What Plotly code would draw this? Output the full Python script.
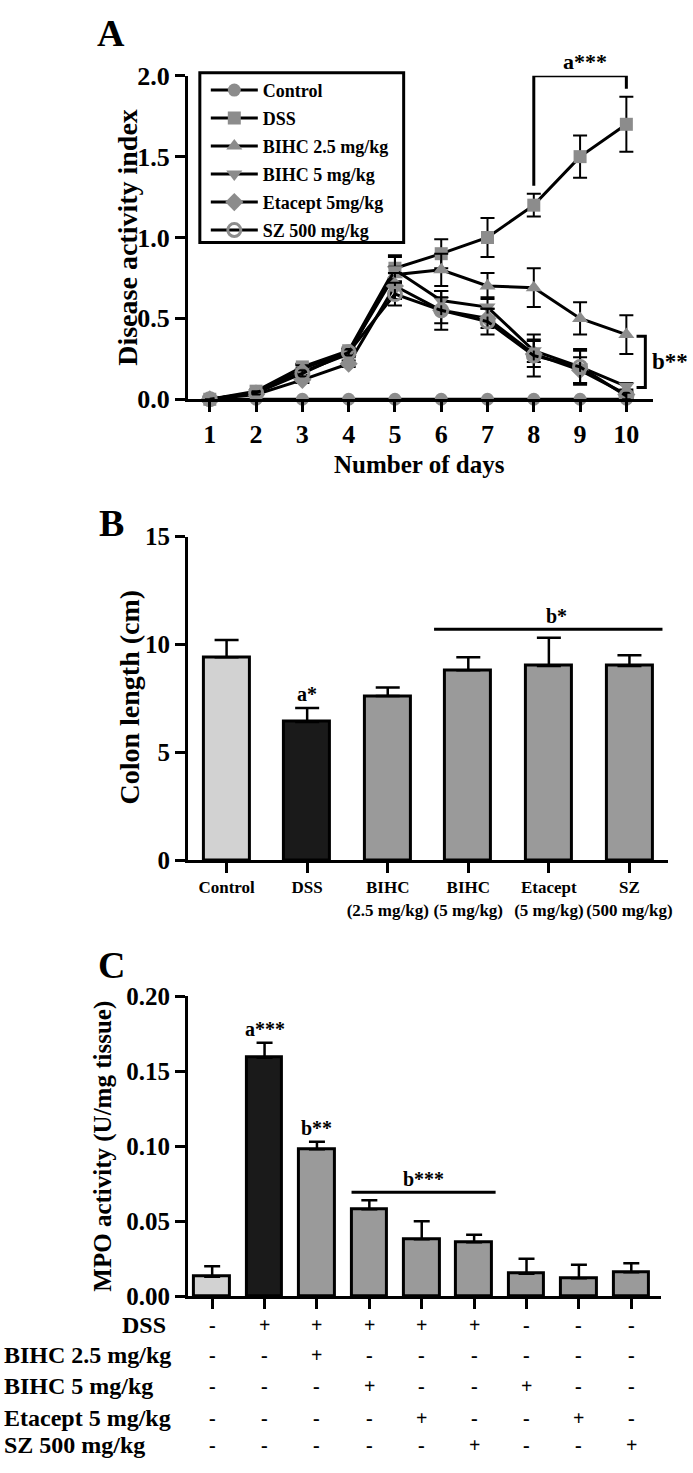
import plotly.graph_objects as go

# ---------------- Data ----------------
days = [1, 2, 3, 4, 5, 6, 7, 8, 9, 10]
series_names = ["Control", "DSS", "BIHC 2.5 mg/kg", "BIHC 5 mg/kg", "Etacept 5mg/kg", "SZ 500 mg/kg"]
dai_control = [0, 0, 0, 0, 0, 0, 0, 0, 0, 0]
dai_control_err = [0, 0, 0, 0, 0, 0, 0, 0, 0, 0]
dai_dss = [0.0, 0.05, 0.20, 0.30, 0.81, 0.90, 1.00, 1.20, 1.50, 1.70]
dai_dss_err = [0, 0.01, 0.02, 0.02, 0.08, 0.09, 0.12, 0.07, 0.13, 0.17]
dai_bihc25 = [0.0, 0.04, 0.19, 0.29, 0.77, 0.80, 0.70, 0.69, 0.50, 0.40]
dai_bihc25_err = [0, 0.01, 0.02, 0.02, 0.05, 0.10, 0.08, 0.12, 0.10, 0.12]
dai_bihc5 = [0.0, 0.04, 0.17, 0.28, 0.80, 0.61, 0.57, 0.30, 0.20, 0.08]
dai_bihc5_err = [0, 0.01, 0.02, 0.02, 0.08, 0.06, 0.06, 0.07, 0.10, 0.02]
dai_etacept = [0.0, 0.03, 0.12, 0.22, 0.70, 0.55, 0.50, 0.28, 0.18, 0.03]
dai_etacept_err = [0, 0.01, 0.02, 0.02, 0.08, 0.08, 0.06, 0.08, 0.08, 0.02]
dai_sz = [0.0, 0.04, 0.16, 0.29, 0.65, 0.55, 0.48, 0.27, 0.20, 0.02]
dai_sz_err = [0, 0.01, 0.02, 0.02, 0.07, 0.12, 0.08, 0.13, 0.11, 0.02]

groups_b = ["Control", "DSS", "BIHC<br>(2.5 mg/kg)", "BIHC<br>(5 mg/kg)", "Etacept<br>(5 mg/kg)", "SZ<br>(500 mg/kg)"]
colon_len = [9.4, 6.4, 7.6, 8.8, 9.0, 9.0]
colon_err = [0.8, 0.65, 0.4, 0.6, 1.3, 0.5]
colors_b = ["#d2d2d2", "#1a1a1a", "#9a9a9a", "#9a9a9a", "#9a9a9a", "#9a9a9a"]

mpo = [0.013, 0.159, 0.098, 0.058, 0.038, 0.036, 0.015, 0.012, 0.016]
mpo_err = [0.007, 0.010, 0.005, 0.006, 0.012, 0.005, 0.010, 0.009, 0.006]
colors_c = ["#d2d2d2", "#1a1a1a", "#9a9a9a", "#9a9a9a", "#9a9a9a", "#9a9a9a", "#9a9a9a", "#9a9a9a", "#9a9a9a"]

table_rows = ["DSS", "BIHC 2.5 mg/kg", "BIHC 5 mg/kg", "Etacept 5 mg/kg", "SZ 500 mg/kg"]
row_dss = ["-", "+", "+", "+", "+", "+", "-", "-", "-"]
row_bihc25 = ["-", "-", "+", "-", "-", "-", "-", "-", "-"]
row_bihc5 = ["-", "-", "-", "+", "-", "-", "+", "-", "-"]
row_etacept = ["-", "-", "-", "-", "+", "-", "-", "+", "-"]
row_sz = ["-", "-", "-", "-", "-", "+", "-", "-", "+"]

# ---------------- Figure ----------------
W, H = 693, 1473
FONT = "Liberation Serif"
GRAY = "#8c8c8c"

def px(x):
    return x / W

def py(y):
    return 1 - y / H

fig = go.Figure()

dai_all = [
    (dai_control, dai_control_err, "circle", GRAY, 13, 0),
    (dai_dss, dai_dss_err, "square", GRAY, 13, 0),
    (dai_bihc25, dai_bihc25_err, "triangle-up", GRAY, 14, 0),
    (dai_bihc5, dai_bihc5_err, "triangle-down", GRAY, 14, 0),
    (dai_etacept, dai_etacept_err, "diamond", GRAY, 14, 0),
    (dai_sz, dai_sz_err, "circle-open", GRAY, 13, 3),
]
for i, (vals, errs, sym, col, size, lw) in enumerate(dai_all):
    fig.add_trace(go.Scatter(
        x=days, y=vals, name=series_names[i], mode="lines+markers",
        line=dict(color="black", width=3),
        marker=dict(symbol=sym, color=col, size=size, line=dict(width=lw, color=col)),
        error_y=dict(type="data", array=errs, color="black", thickness=2, width=7),
        cliponaxis=False, legendgroup=f"g{i}",
        xaxis="x", yaxis="y",
    ))

# Panel B bars
fig.add_trace(go.Bar(
    x=list(range(len(groups_b))), y=colon_len, width=0.57,
    marker=dict(color=colors_b, line=dict(color="black", width=3)),
    error_y=dict(type="data", array=colon_err, arrayminus=[0] * len(colon_err), symmetric=False,
                 color="black", thickness=2.5, width=12),
    showlegend=False, xaxis="x2", yaxis="y2",
))

# Panel C bars
fig.add_trace(go.Bar(
    x=list(range(len(mpo))), y=mpo, width=0.68,
    marker=dict(color=colors_c, line=dict(color="black", width=3)),
    error_y=dict(type="data", array=mpo_err, arrayminus=[0] * len(mpo_err), symmetric=False,
                 color="black", thickness=2.5, width=8),
    showlegend=False, xaxis="x3", yaxis="y3",
))

axis_common = dict(showline=True, linewidth=3, linecolor="black", ticks="outside",
                   ticklen=10, tickwidth=3, tickcolor="black", showgrid=False, zeroline=False)

fig.update_layout(
    width=W, height=H, margin=dict(l=0, r=0, t=0, b=0),
    paper_bgcolor="white", plot_bgcolor="white",
    font=dict(family=FONT, color="black", weight="bold"),
    bargap=0,
    xaxis=dict(domain=[px(189), px(657)], range=[0.527, 10.58], tickvals=days, anchor="y",
               tickfont=dict(family=FONT, size=26, weight="bold"), **axis_common),
    yaxis=dict(domain=[py(393), py(63)], range=[0, 2.0], tickvals=[0, 0.5, 1.0, 1.5, 2.0],
               tickformat=".1f", anchor="x",
               tickfont=dict(family=FONT, size=26, weight="bold"), **axis_common),
    xaxis2=dict(domain=[px(189), px(672)], range=[-0.48, 5.48], tickvals=list(range(6)),
                ticktext=groups_b, anchor="y2",
                tickfont=dict(family=FONT, size=17, weight="bold"), **axis_common),
    yaxis2=dict(domain=[py(863), py(533)], range=[0, 15], tickvals=[0, 5, 10, 15], anchor="x2",
                tickfont=dict(family=FONT, size=25, weight="bold"), **axis_common),
    xaxis3=dict(domain=[px(189), px(665)], range=[-0.463, 8.57], tickvals=list(range(9)),
                showticklabels=False, anchor="y3", **axis_common),
    yaxis3=dict(domain=[py(1308), py(1002)], range=[0, 0.2], tickvals=[0, 0.05, 0.10, 0.15, 0.20],
                tickformat=".2f", anchor="x3",
                tickfont=dict(family=FONT, size=25, weight="bold"), **axis_common),
    legend=dict(x=px(207), y=py(59), xanchor="left", yanchor="top",
                bgcolor="rgba(0,0,0,0)", borderwidth=0, tracegroupgap=1.6,
                itemwidth=47,
                font=dict(family=FONT, size=18, weight="bold", color="black"),
                itemsizing="trace"),
    showlegend=True,
)

shapes = []
# legend box
shapes.append(dict(type="rect", xref="paper", yref="paper", x0=px(201), x1=px(406), y0=py(233), y1=py(60),
                   line=dict(color="black", width=3)))
# a*** bracket panel A
shapes.append(dict(type="path", xref="x", yref="y", path="M 8,1.32 L 8,2.0 L 10,2.0 L 10,1.92",
                   line=dict(color="black", width=3)))
# b** bracket panel A
shapes.append(dict(type="path", xref="x", yref="y", path="M 10.22,0.39 L 10.41,0.39 L 10.41,0.073 L 10.22,0.073",
                   line=dict(color="black", width=3)))
# b* line panel B
shapes.append(dict(type="line", xref="x2", yref="y2", x0=2.575, x1=5.41, y0=10.7, y1=10.7,
                   line=dict(color="black", width=3)))
# b*** line panel C
shapes.append(dict(type="line", xref="x3", yref="y3", x0=2.66, x1=5.41, y0=0.0694, y1=0.0694,
                   line=dict(color="black", width=3)))
fig.update_layout(shapes=shapes)

ann = []
def txt(text, x, y, size, xref="paper", yref="paper", xanchor="center", yanchor="middle", angle=0):
    ann.append(dict(text=text, x=x, y=y, xref=xref, yref=yref, xanchor=xanchor, yanchor=yanchor,
                    textangle=angle, showarrow=False,
                    font=dict(family=FONT, size=size, color="black", weight="bold")))

# panel letters
txt("A", px(112), py(19), 38)
txt("B", px(112), py(519), 38)
txt("C", px(112), py(970), 38)
# axis titles
txt("Number of days", px(422), py(460), 25)
txt("Disease activity index", px(128), py(228), 28, angle=-90)
txt("Colon length (cm)", px(130), py(697), 28, angle=-90)
txt("MPO activity (U/mg tissue)", px(104), py(1155), 25, angle=-90)
# significance labels
txt("a***", 9.1, 2.0, 22, xref="x", yref="y", yanchor="bottom")
txt("b**", 10.5, 0.235, 23, xref="x", yref="y", xanchor="left")
txt("a*", 1, 7.1, 20, xref="x2", yref="y2", yanchor="bottom")
txt("b*", 4.09, 10.7, 20, xref="x2", yref="y2", yanchor="bottom")
txt("a***", 1, 0.1695, 20, xref="x3", yref="y3", yanchor="bottom")
txt("b**", 2, 0.1035, 20, xref="x3", yref="y3", yanchor="bottom")
txt("b***", 4.03, 0.0694, 20, xref="x3", yref="y3", yanchor="bottom")

# treatment table
row_vals = [row_dss, row_bihc25, row_bihc5, row_etacept, row_sz]
row_y = [1337, 1368, 1400, 1432, 1460]
for label, vals, yy in zip(table_rows, row_vals, row_y):
    if label == "DSS":
        txt(label, px(169), py(yy), 24, xanchor="right")
    else:
        txt(label, px(2), py(yy), 24, xanchor="left")
    for j, s in enumerate(vals):
        txt(s, j, py(yy), 20, xref="x3")

fig.update_layout(annotations=ann)

fig.write_html("out.html", config={"displayModeBar": False},
               post_script="document.body.style.margin='0';document.body.style.padding='0';document.body.style.overflow='hidden';")
